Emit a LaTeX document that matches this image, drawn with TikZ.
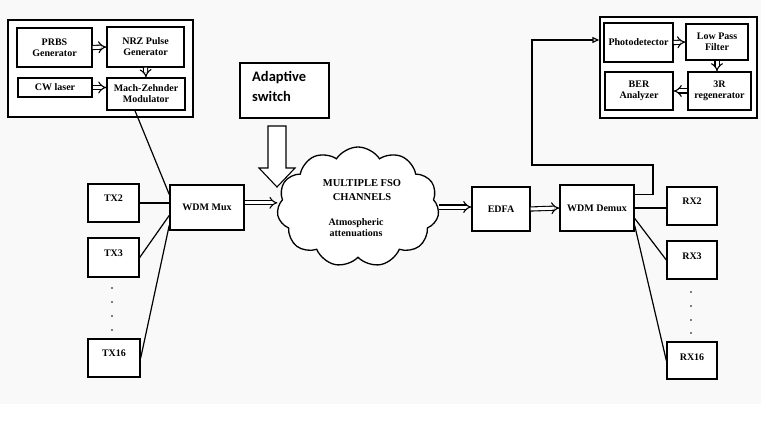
\documentclass[tikz,border=0pt]{standalone}
\usepackage{fontspec}
\setmainfont{Liberation Serif}
\newfontfamily\swfont{Carlito}
\usetikzlibrary{shapes.symbols,arrows.meta,calc}
\begin{document}
\begin{tikzpicture}[x=1pt,y=-1pt,
  box/.style={draw, line width=1.4pt, fill=white, inner sep=0pt, align=center,
    font=\fontsize{10}{11}\selectfont\bfseries},
  frame/.style={draw, line width=1.4pt, fill=white, inner sep=0pt},
  wire/.style={line width=1.2pt},
  dbl/.style={double, double distance=3pt, line width=1.1pt, -{Implies}},
  fb/.style={line width=1.2pt, -{Triangle[open, length=7pt, width=6pt]}},
  lbl/.style={font=\fontsize{10}{11}\selectfont\bfseries, align=center}
]
\useasboundingbox (0,0) rectangle (766,428);
\fill[white] (0,0) rectangle (766,428);
\fill[gray!5] (0,0) rectangle (761,404);

% transmitter block
\node[frame, minimum width=185pt, minimum height=97pt] (txbox) at (100.5,68.5) {};
\node[box, minimum width=75pt, minimum height=39pt] (prbs) at (54.5,47.5) {PRBS\\Generator};
\node[box, minimum width=77pt, minimum height=40pt] (nrz) at (145.5,47) {NRZ Pulse\\Generator};
\node[box, minimum width=74pt, minimum height=19pt] (cw) at (55,87.5) {CW laser};
\node[box, minimum width=78pt, minimum height=32pt] (mzm) at (146,94) {Mach-Zehnder\\Modulator};
\draw[dbl] (prbs.east) -- (nrz.west);
\draw[dbl] (nrz.south) -- (mzm.north);
\draw[dbl] (cw.east) -- (cw.east -| mzm.west);

% TX boxes
\node[box, minimum width=51pt, minimum height=38pt, label={[lbl, yshift=5pt]center:TX2}] (tx2) at (113.5,203) {};
\node[box, minimum width=51pt, minimum height=39pt, label={[lbl, yshift=4pt]center:TX3}] (tx3) at (113.5,257.5) {};
\node[box, minimum width=52pt, minimum height=38pt, label={[lbl, yshift=5pt]center:TX16}] (tx16) at (114,358) {};
\foreach \yy in {288,302,316,330} \fill (112,\yy) circle (0.9pt);

\node[box, minimum width=74pt, minimum height=45pt] (mux) at (207,207.5) {WDM Mux};

\coordinate (mzmout) at ([xshift=-11pt]mzm.south);
\coordinate (muxinA) at ($(mux.north west)!0.22!(mux.south west)$);
\coordinate (muxinC) at ($(mux.north west)!0.67!(mux.south west)$);
\coordinate (muxinD) at ($(mux.north west)!0.88!(mux.south west)$);
\draw[wire] (mzmout) -- (muxinA);
\draw[wire] (tx2.east) -- (tx2.east -| mux.west);
\draw[wire] (tx3.east) -- (muxinC);
\draw[wire] (tx16.east) -- (muxinD);

% adaptive switch
\node[draw, line width=1.2pt, fill=white, minimum width=89pt, minimum height=55pt, inner sep=0pt] (sw) at (284.5,90.5) {};
\node[font=\swfont\bfseries\fontsize{14.5}{20}\selectfont, align=left, anchor=north west, inner sep=0pt] at (252,71) {Adaptive\\switch};
\draw[line width=1.1pt, fill=white] (268,126) -- (286,126) -- (286,168) -- (295,168) -- (277,187) -- (259,168) -- (268,168) -- cycle;

% cloud
\node[cloud, draw, line width=1.3pt, fill=white, cloud puffs=11, cloud puff arc=115, aspect=1.4,
  minimum width=162pt, minimum height=120pt, inner sep=0pt] (cloud) at (358,207) {};
\node[font=\fontsize{10.5}{14}\selectfont\bfseries, align=center] at (362,190) {MULTIPLE FSO\\CHANNELS};
\node[font=\fontsize{10}{11}\selectfont\bfseries, align=center] at (356,228) {Atmospheric\\attenuations};

\coordinate (muxout) at ($(mux.north east)!0.4!(mux.south east)$);
\draw[dbl] (muxout) -- (muxout -| cloud.west);

% receiver chain
\node[box, minimum width=58pt, minimum height=44pt] (edfa) at (501,209) {EDFA};
\node[box, minimum width=74pt, minimum height=46pt] (demux) at (597,208) {WDM Demux};
\draw[dbl] (cloud.east) -- (cloud.east -| edfa.west);
\draw[dbl] (edfa.east) -- (demux.west);

% receiver block
\node[frame, minimum width=157pt, minimum height=101pt] (rxbox) at (678.5,67.5) {};
\node[box, minimum width=69pt, minimum height=39pt] (pd) at (638.5,42.5) {Photodetector};
\node[box, minimum width=62pt, minimum height=36pt] (lpf) at (717,42) {Low Pass\\Filter};
\node[box, minimum width=68pt, minimum height=38pt] (ber) at (639,91) {BER\\Analyzer};
\node[box, minimum width=63pt, minimum height=38pt] (r3) at (719.5,91) {3R\\regenerator};
\draw[dbl] (pd.east) -- (lpf.west);
\draw[dbl] (lpf.south) -- (lpf.south |- r3.north);
\draw[dbl] (r3.west) -- (ber.east);

% RX boxes
\node[box, minimum width=50pt, minimum height=38pt, label={[lbl, yshift=5pt]center:RX2}] (rx2) at (692,206) {};
\node[box, minimum width=50pt, minimum height=38pt, label={[lbl, yshift=4pt]center:RX3}] (rx3) at (692,260) {};
\node[box, minimum width=50pt, minimum height=37pt, label={[lbl, yshift=3pt]center:RX16}] (rx16) at (692,360.5) {};
\foreach \yy in {292,306,320,333} \fill (691,\yy) circle (0.9pt);

\coordinate (dmxB) at ($(demux.north east)!0.5!(demux.south east)$);
\coordinate (dmxC) at ($(demux.north east)!0.72!(demux.south east)$);
\coordinate (dmxD) at ($(demux.north east)!0.87!(demux.south east)$);
\draw[wire] (dmxB) -- (dmxB -| rx2.west);
\draw[wire] (dmxC) -- (rx3.west);
\draw[wire] (dmxD) -- (rx16.west);

% feedback to photodetector
\coordinate (dmxA) at ($(demux.north east)!0.22!(demux.south east)$);
\coordinate (fbA) at (653,165);
\coordinate (fbB) at (532,40);
\draw[fb] (dmxA) -| (fbA) -| (fbB) -- (fbB -| rxbox.west);
\end{tikzpicture}
\end{document}
